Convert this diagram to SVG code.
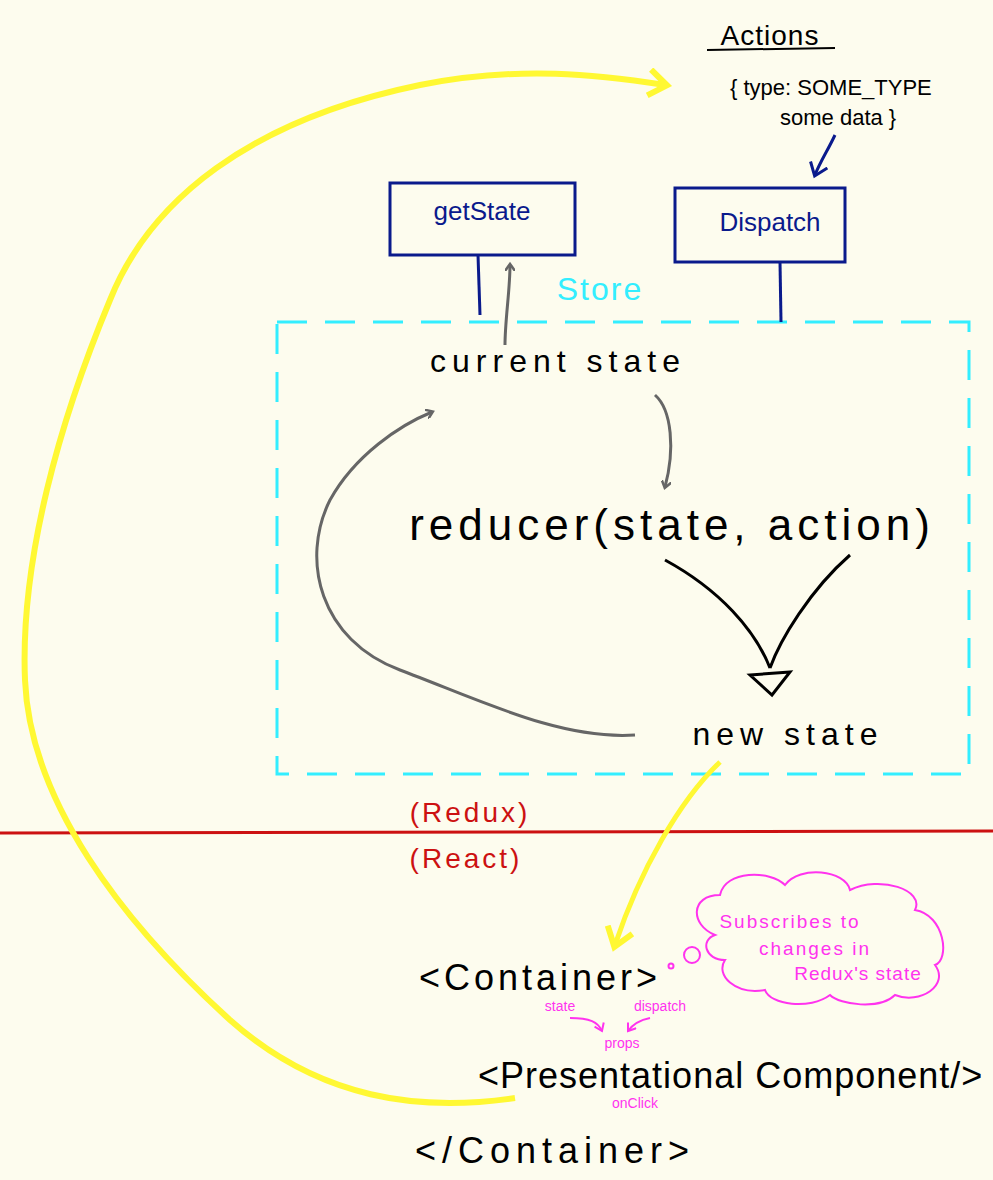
<svg xmlns="http://www.w3.org/2000/svg" width="993" height="1180" viewBox="0 0 993 1180">
<style>
text{font-family:"Liberation Sans",sans-serif}
.nav{stroke:#0a1a8c;stroke-width:3;fill:none}
.pk{fill:#ff33ee}
.pks{stroke:#ff33ee;stroke-width:2;fill:none}
.gr{stroke:#666;stroke-width:3;fill:none}
</style>
<defs>
<marker id="ga" markerWidth="10" markerHeight="10" refX="6" refY="5" orient="auto" markerUnits="userSpaceOnUse"><path d="M0,0 L7,5 L0,10" stroke="#666" stroke-width="2.5" fill="none"/></marker>
<marker id="ya" markerWidth="30" markerHeight="30" refX="18" refY="15" orient="auto" markerUnits="userSpaceOnUse"><path d="M2,2 L20,15 L2,28" stroke="#fff833" stroke-width="6" fill="none"/></marker>
<marker id="ba" markerWidth="20" markerHeight="20" refX="12" refY="10" orient="auto" markerUnits="userSpaceOnUse"><path d="M1,1 L13,10 L1,19" stroke="#0a1a8c" stroke-width="3" fill="none"/></marker>
<marker id="pa" markerWidth="12" markerHeight="12" refX="8" refY="6" orient="auto" markerUnits="userSpaceOnUse"><path d="M1,1 L8,6 L1,11" stroke="#ff33ee" stroke-width="2" fill="none"/></marker>
</defs>
<rect width="993" height="1180" fill="#fdfcee"/>
<g id="actions">
<text x="770" y="45" font-size="28" text-anchor="middle" letter-spacing="1">Actions</text>
<path d="M707,50 L835,48" stroke="#000" stroke-width="2"/>
<text x="730" y="95" font-size="22">{ type: SOME_TYPE</text>
<text x="780" y="125" font-size="22">some data }</text>
</g>
<g id="getState"><rect x="390" y="183" width="185" height="72" class="nav"/><text x="482" y="220" font-size="26" fill="#0a1a8c" text-anchor="middle">getState</text></g>
<g id="dispatch"><rect x="675" y="188" width="170" height="74" class="nav"/><text x="770" y="231" font-size="26" fill="#0a1a8c" text-anchor="middle">Dispatch</text></g>
<g id="store">
<rect x="277" y="322" width="692" height="452" fill="none" stroke="#33eeff" stroke-width="3" stroke-dasharray="30,18"/>
<text x="600" y="300" font-size="32" fill="#33eeff" text-anchor="middle" letter-spacing="2">Store</text>
</g>
<g id="current"><text x="558" y="372" font-size="32" text-anchor="middle" letter-spacing="6">current state</text></g>
<g id="reducer"><text x="672" y="540" font-size="44" text-anchor="middle" letter-spacing="5">reducer(state, action)</text></g>
<g id="newstate"><text x="788" y="745" font-size="32" text-anchor="middle" letter-spacing="6">new state</text></g>
<g id="divider">
<path d="M0,833 L993,831" stroke="#cc1111" stroke-width="3"/>
<text x="470" y="822" font-size="28" fill="#cc1111" text-anchor="middle" letter-spacing="3">(Redux)</text>
<text x="466" y="868" font-size="28" fill="#cc1111" text-anchor="middle" letter-spacing="3">(React)</text>
</g>
<g id="cloud">
<path d="M715,935 C690,925 690,895 720,895 C725,870 770,870 785,885 C800,865 845,870 850,890 C880,875 925,890 915,910 C945,915 950,960 935,965 C950,985 920,1005 895,995 C880,1010 840,1005 830,995 C810,1010 770,1005 765,990 C735,995 715,975 725,960 C705,960 700,940 715,935 Z" class="pks" stroke-width="2.5"/>
<circle cx="692" cy="955" r="8" class="pks"/>
<circle cx="671" cy="966" r="2.5" class="pks"/>
<text x="790" y="928" font-size="19" class="pk" text-anchor="middle" letter-spacing="2">Subscribes to</text>
<text x="815" y="955" font-size="19" class="pk" text-anchor="middle" letter-spacing="2">changes in</text>
<text x="858" y="980" font-size="19" class="pk" text-anchor="middle" letter-spacing="1">Redux's state</text>
</g>
<g id="container"><text x="540" y="990" font-size="36" text-anchor="middle" letter-spacing="4">&lt;Container&gt;</text></g>
<g id="presentational"><text x="478" y="1088" font-size="36" letter-spacing="1">&lt;Presentational Component/&gt;</text></g>
<g id="containerEnd"><text x="555" y="1163" font-size="36" text-anchor="middle" letter-spacing="6">&lt;/Container&gt;</text></g>
<g id="labels">
<text x="560" y="1011" font-size="14" class="pk" text-anchor="middle">state</text>
<text x="660" y="1011" font-size="14" class="pk" text-anchor="middle">dispatch</text>
<text x="622" y="1048" font-size="14" class="pk" text-anchor="middle">props</text>
<text x="635" y="1108" font-size="14" class="pk" text-anchor="middle">onClick</text>
</g>
<g id="connectors">
<path d="M835,135 C828,150 820,162 815,175" class="nav" marker-end="url(#ba)"/>
<path d="M478,255 L480,315" class="nav"/>
<path d="M780,262 L781,322" class="nav"/>
<path d="M505,345 C505,320 510,290 510,265" class="gr" marker-end="url(#ga)"/>
<path d="M655,395 C672,410 675,450 665,487" class="gr" marker-end="url(#ga)"/>
<path d="M635,735 C560,740 480,700 400,670 C320,640 300,560 330,500 C355,455 400,425 432,412" class="gr" marker-end="url(#ga)"/>
<path d="M665,560 C720,590 755,630 770,668 M850,555 C810,590 780,640 770,668" stroke="#000" stroke-width="3" fill="none"/>
<path d="M750,675 L790,672 L772,695 Z" stroke="#000" stroke-width="3" fill="none"/>
<path d="M720,762 C680,800 640,870 615,945" stroke="#fff833" stroke-width="5" fill="none" marker-end="url(#ya)"/>
<path d="M515,1098 C420,1112 320,1100 230,1020 C120,920 30,800 25,680 C20,560 60,420 110,300 C150,200 250,120 420,85 C520,65 600,75 665,85" stroke="#fff833" stroke-width="6" fill="none" marker-end="url(#ya)"/>
<path d="M570,1018 C590,1018 598,1022 602,1031" class="pks" marker-end="url(#pa)"/>
<path d="M650,1018 C640,1020 633,1024 628,1031" class="pks" marker-end="url(#pa)"/>
</g>
</svg>
